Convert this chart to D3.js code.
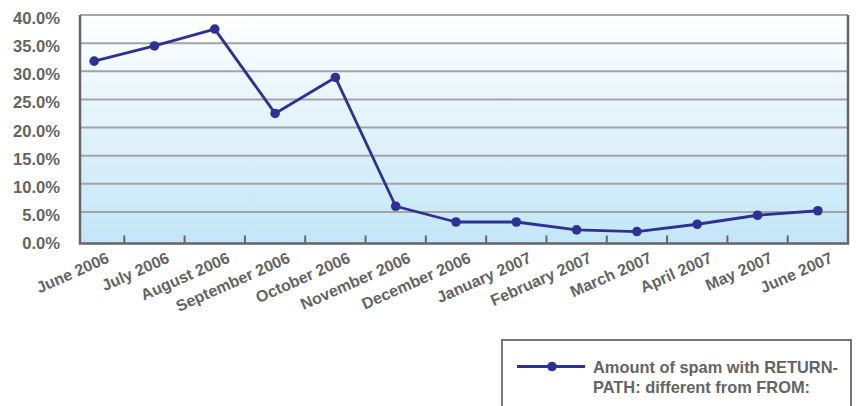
<!DOCTYPE html>
<html>
<head>
<meta charset="utf-8">
<script src="https://cdn.jsdelivr.net/npm/d3@7"></script>
<style>
  body { margin: 0; background: #fff; }
  svg text { font-family: "Liberation Sans", Arial, sans-serif; font-weight: bold; fill: #646464; }
</style>
</head>
<body>
<div id="chart"></div>
<script>
// data
const months = ["June 2006", "July 2006", "August 2006", "September 2006", "October 2006",
  "November 2006", "December 2006", "January 2007", "February 2007", "March 2007",
  "April 2007", "May 2007", "June 2007"];
const spamShare = [31.8, 34.5, 37.5, 22.5, 28.9, 6.0, 3.2, 3.2, 1.8, 1.5, 2.8, 4.4, 5.2];
const yTicks = [0, 5, 10, 15, 20, 25, 30, 35, 40];
const legendLines = ["Amount of spam with RETURN-", "PATH: different from FROM:"];

const width = 864, height = 406;
const plot = { left: 80, right: 848, top: 15, bottom: 243.5 };

const svg = d3.select("#chart").append("svg")
  .attr("width", width)
  .attr("height", height);

// background gradient
const grad = svg.append("defs").append("linearGradient")
  .attr("id", "bg").attr("x1", 0).attr("y1", 0).attr("x2", 0).attr("y2", 1);
grad.append("stop").attr("offset", "0%").attr("stop-color", "#ffffff");
grad.append("stop").attr("offset", "100%").attr("stop-color", "#c2e6f8");

svg.append("rect")
  .attr("x", plot.left).attr("y", plot.top)
  .attr("width", plot.right - plot.left).attr("height", plot.bottom - plot.top)
  .attr("fill", "url(#bg)");

const x = d3.scaleBand().domain(months).range([64, plot.right]);
// zero sits a little above the drawn axis line
const y = d3.scaleLinear().domain([0, 40]).range([240, plot.top]);

// gridlines
svg.append("g")
  .selectAll("line")
  .data(yTicks.filter(d => d > 0))
  .join("line")
  .attr("x1", plot.left).attr("x2", plot.right)
  .attr("y1", d => y(d)).attr("y2", d => y(d))
  .attr("stroke", "#a3a4a8")
  .attr("stroke-width", 2);

// y labels
svg.append("g")
  .selectAll("text")
  .data(yTicks)
  .join("text")
  .attr("x", 60)
  .attr("y", d => y(d) + 9)
  .attr("text-anchor", "end")
  .attr("font-size", 16.6)
  .text(d => d.toFixed(1) + "%");

// x ticks at band boundaries (inward)
svg.append("g")
  .selectAll("line")
  .data(months.slice(1))
  .join("line")
  .attr("x1", d => x(d)).attr("x2", d => x(d))
  .attr("y1", plot.bottom).attr("y2", plot.bottom - 8)
  .attr("stroke", "#666")
  .attr("stroke-width", 2);

// axes frame
svg.append("path")
  .attr("d", `M${plot.left},${plot.top}V${plot.bottom}H${plot.right}V${plot.top}`)
  .attr("fill", "none")
  .attr("stroke", "#666")
  .attr("stroke-width", 2.5);

// x labels, rotated
svg.append("g")
  .selectAll("text")
  .data(months)
  .join("text")
  .attr("text-anchor", "end")
  .attr("font-size", 16)
  .attr("transform", d => `translate(${x(d) + x.bandwidth() / 2 + 16},${plot.bottom + 18.5}) rotate(-24)`)
  .text(d => d);

// line + markers
const line = d3.line()
  .x((d, i) => x(months[i]) + x.bandwidth() / 2)
  .y(d => y(d));

svg.append("path")
  .datum(spamShare)
  .attr("d", line)
  .attr("fill", "none")
  .attr("stroke", "#2e3192")
  .attr("stroke-width", 2.8)
  .attr("stroke-linejoin", "round");

svg.append("g")
  .selectAll("circle")
  .data(spamShare)
  .join("circle")
  .attr("cx", (d, i) => x(months[i]) + x.bandwidth() / 2)
  .attr("cy", d => y(d))
  .attr("r", 4.8)
  .attr("fill", "#2e3192");

// legend
const legend = svg.append("g");
legend.append("rect")
  .attr("x", 502).attr("y", 340)
  .attr("width", 349).attr("height", 90)
  .attr("fill", "#fff")
  .attr("stroke", "#777")
  .attr("stroke-width", 2);
legend.append("line")
  .attr("x1", 517).attr("x2", 585)
  .attr("y1", 366.5).attr("y2", 366.5)
  .attr("stroke", "#2e3192")
  .attr("stroke-width", 2.8);
legend.append("circle")
  .attr("cx", 552).attr("cy", 366.5).attr("r", 4.8)
  .attr("fill", "#2e3192");
legend.selectAll("text.lg")
  .data(legendLines)
  .join("text")
  .attr("class", "lg")
  .attr("x", 593)
  .attr("y", (d, i) => 373 + i * 20)
  .attr("font-size", 16.4)
  .text(d => d);
</script>
</body>
</html>
